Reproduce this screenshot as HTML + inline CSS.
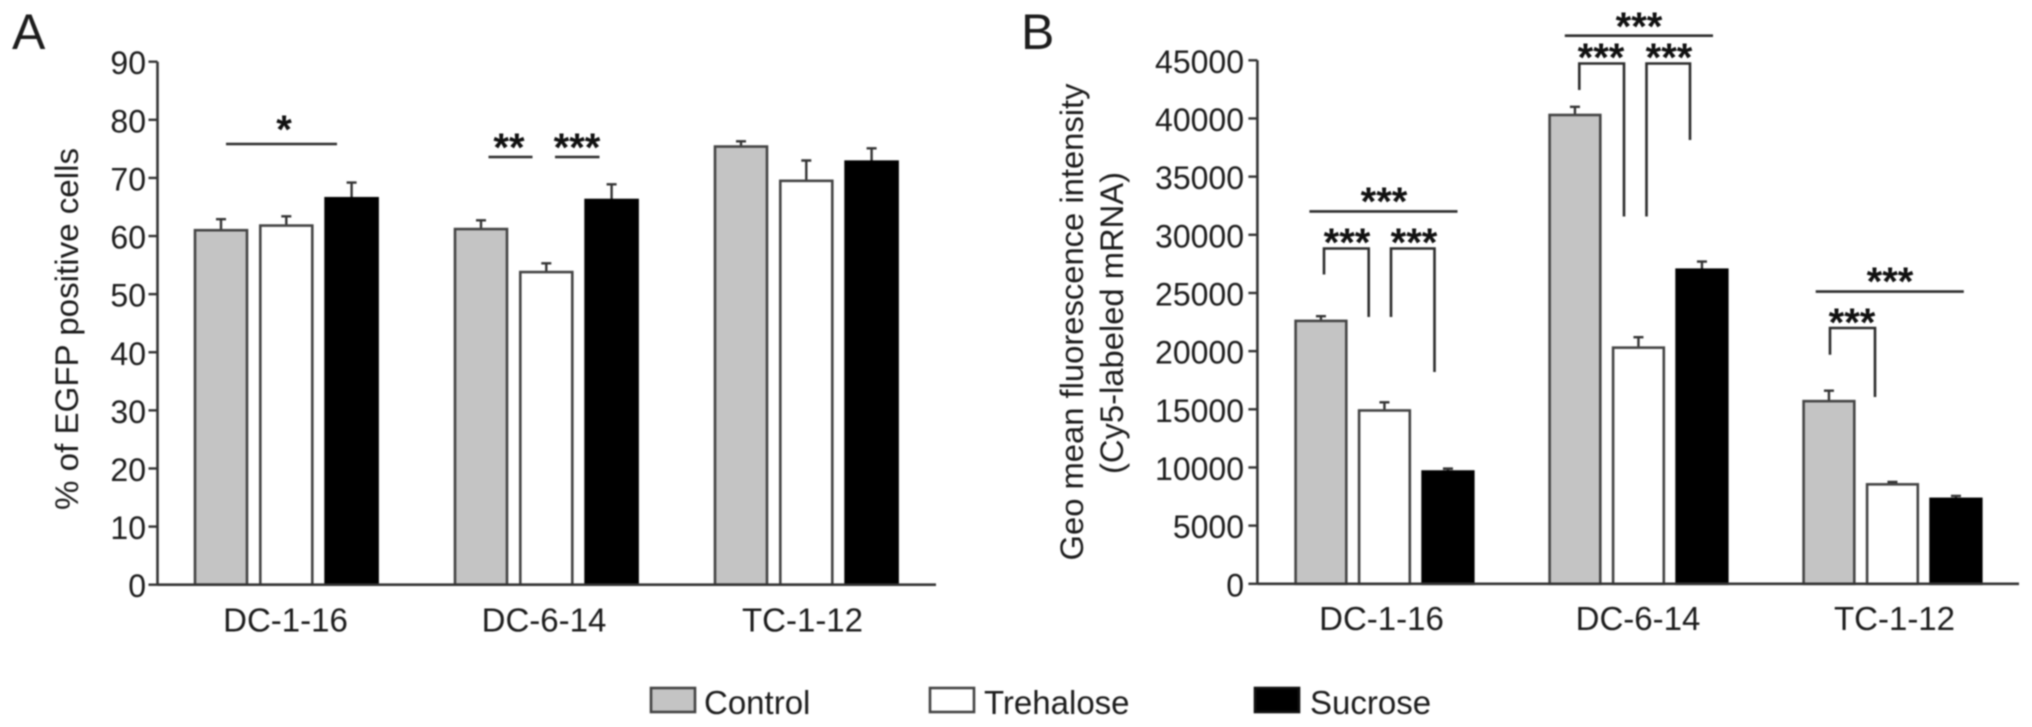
<!DOCTYPE html>
<html lang="en">
<head>
<meta charset="utf-8">
<title>EGFP positive cells and Cy5-labeled mRNA fluorescence</title>
<style>
html,body{margin:0;padding:0;background:#fff;}
body{width:2032px;height:727px;overflow:hidden;}
svg{display:block;filter:blur(0.8px);}
text{font-family:"Liberation Sans",sans-serif;fill:#1c1c1c;}
.star{font-weight:bold;font-size:40px;text-anchor:middle;fill:#111;}
.sig{stroke:#2c2c2c;stroke-width:2.6;fill:none;}
</style>
</head>
<body>
<svg id="chart" xmlns="http://www.w3.org/2000/svg" width="2032" height="727" viewBox="0 0 2032 727">
  <text x="12" y="49" font-size="50">A</text>
  <text x="1021" y="49" font-size="50">B</text>

  <text transform="translate(78,329) rotate(-90)" font-size="32" text-anchor="middle" textLength="362" lengthAdjust="spacingAndGlyphs">% of EGFP positive cells</text>
  <text transform="translate(1083,322) rotate(-90)" font-size="32" text-anchor="middle" textLength="477" lengthAdjust="spacingAndGlyphs">Geo mean fluorescence intensity</text>
  <text transform="translate(1123,323) rotate(-90)" font-size="32" text-anchor="middle" textLength="302" lengthAdjust="spacingAndGlyphs">(Cy5-labeled mRNA)</text>

  <g id="panelA"></g>
  <g id="panelB"></g>

  <g>
    <path class="sig" d="M226 144H337"/>
    <text class="star" x="284" y="143">*</text>
    <path class="sig" d="M488.5 157H532.5"/>
    <text class="star" x="509" y="161">**</text>
    <path class="sig" d="M555 157H599.5"/>
    <text class="star" x="577" y="161">***</text>
  </g>

  <g>
    <path class="sig" d="M1309.4 211.4H1457.5"/>
    <text class="star" x="1384" y="215">***</text>
    <path class="sig" d="M1324 274.5V248.5H1368.7V317"/>
    <text class="star" x="1347" y="256">***</text>
    <path class="sig" d="M1391 317V248.5H1434.5V372"/>
    <text class="star" x="1414" y="256">***</text>

    <path class="sig" d="M1564.8 35.7H1713"/>
    <text class="star" x="1639" y="40">***</text>
    <path class="sig" d="M1579.3 90V63.5H1624V216.5"/>
    <text class="star" x="1601" y="71">***</text>
    <path class="sig" d="M1646.5 216.5V63.5H1690V140"/>
    <text class="star" x="1669" y="71">***</text>

    <path class="sig" d="M1815.7 291.6H1963.8"/>
    <text class="star" x="1890" y="295">***</text>
    <path class="sig" d="M1830 354.7V328H1875V397"/>
    <text class="star" x="1852" y="336">***</text>
  </g>

  <g>
    <rect x="651" y="688" width="44" height="24" fill="#c4c4c4" stroke="#444" stroke-width="2.6"/>
    <text x="704" y="714" font-size="33">Control</text>
    <rect x="930" y="688" width="44" height="24" fill="#fff" stroke="#444" stroke-width="2.6"/>
    <text x="984" y="714" font-size="33">Trehalose</text>
    <rect x="1255" y="688" width="44" height="24" fill="#000" stroke="#111" stroke-width="2.6"/>
    <text x="1310" y="714" font-size="33">Sucrose</text>
  </g>
</svg>
<script>
const categories = ["DC-1-16", "DC-6-14", "TC-1-12"];
const seriesNames = ["control", "trehalose", "sucrose"];
const seriesFill = ["#c4c4c4", "#ffffff", "#000000"];

const panelATicks = [0, 10, 20, 30, 40, 50, 60, 70, 80, 90];
const panelAControl = [61, 61.2, 75.4];
const panelATrehalose = [61.8, 53.8, 69.5];
const panelASucrose = [66.5, 66.2, 72.8];
const panelAControlErr = [1.9, 1.5, 0.9];
const panelATrehaloseErr = [1.6, 1.5, 3.5];
const panelASucroseErr = [2.7, 2.7, 2.3];

const panelBTicks = [0, 5000, 10000, 15000, 20000, 25000, 30000, 35000, 40000, 45000];
const panelBControl = [22600, 40300, 15700];
const panelBTrehalose = [14900, 20300, 8550];
const panelBSucrose = [9650, 27000, 7300];
const panelBControlErr = [400, 700, 900];
const panelBTrehaloseErr = [700, 900, 200];
const panelBSucroseErr = [250, 700, 250];

const NS = "http://www.w3.org/2000/svg";
function make(tag, attrs, parent) {
  const el = document.createElementNS(NS, tag);
  for (const k in attrs) el.setAttribute(k, attrs[k]);
  parent.appendChild(el);
  return el;
}

function drawPanel(cfg) {
  const g = document.getElementById(cfg.id);
  const y = v => cfg.y0 - (v / cfg.max) * (cfg.y0 - cfg.yTop);
  const xBar = (c, s) => cfg.x0 + c * cfg.groupPitch + s * cfg.barPitch;

  cfg.series.forEach((vals, s) => {
    vals.forEach((v, c) => {
      const x = xBar(c, s);
      const cx = x + cfg.barW / 2;
      const top = y(v + cfg.errs[s][c]);

      const err = make("path", { d: "M" + cx + " " + y(v) + "V" + top + "M" + (cx - 5) + " " + top + "H" + (cx + 5), stroke: "#333", "stroke-width": 2.4, fill: "none" }, g);
      
      

      const bar = make("rect", { x: x, y: y(v), width: cfg.barW, height: cfg.y0 - y(v), fill: seriesFill[s], stroke: s === 2 ? "#000" : "#444", "stroke-width": 2.6 }, g);
      
      
    });
  });

  const yAxis = make("path", { d: "M" + cfg.axisX + " " + y(cfg.max) + "V" + cfg.y0, stroke: "#333", "stroke-width": 2.6, fill: "none" }, g);
  
  

  const xAxis = make("path", { d: "M" + cfg.axisX + " " + cfg.y0 + "H" + cfg.axisEnd, stroke: "#333", "stroke-width": 2.6, fill: "none" }, g);
  
  

  cfg.ticks.forEach(t => {
    const tick = make("path", { d: "M" + (cfg.axisX - 9) + " " + y(t) + "H" + cfg.axisX, stroke: "#333", "stroke-width": 2.4, fill: "none" }, g);
    
    

    const label = make("text", { x: cfg.labelX, y: y(t) + 12.5, "font-size": 32, "text-anchor": "end" }, g);
    
    
    label.textContent = t;
  });

  categories.forEach((name, c) => {
    const label = make("text", { x: cfg.catX0 + c * cfg.catPitch, y: cfg.catY, "font-size": 33, "text-anchor": "middle" }, g);
    
    
    label.textContent = name;
  });
}

drawPanel({
  id: "panelA", x0: 195, groupPitch: 260, barPitch: 65.3, barW: 52,
  y0: 584.7, yTop: 61.7, max: 90, axisX: 157.5, axisEnd: 936, labelX: 146,
  catY: 631.5, catX0: 285.5, catPitch: 258.5,
  ticks: panelATicks,
  series: [panelAControl, panelATrehalose, panelASucrose],
  errs: [panelAControlErr, panelATrehaloseErr, panelASucroseErr]
});

drawPanel({
  id: "panelB", x0: 1295.6, groupPitch: 254, barPitch: 63.5, barW: 50.7,
  y0: 583.8, yTop: 60.3, max: 45000, axisX: 1257.4, axisEnd: 2019, labelX: 1244,
  catY: 630, catX0: 1381.5, catPitch: 256.5,
  ticks: panelBTicks,
  series: [panelBControl, panelBTrehalose, panelBSucrose],
  errs: [panelBControlErr, panelBTrehaloseErr, panelBSucroseErr]
});
</script>
</body>
</html>
